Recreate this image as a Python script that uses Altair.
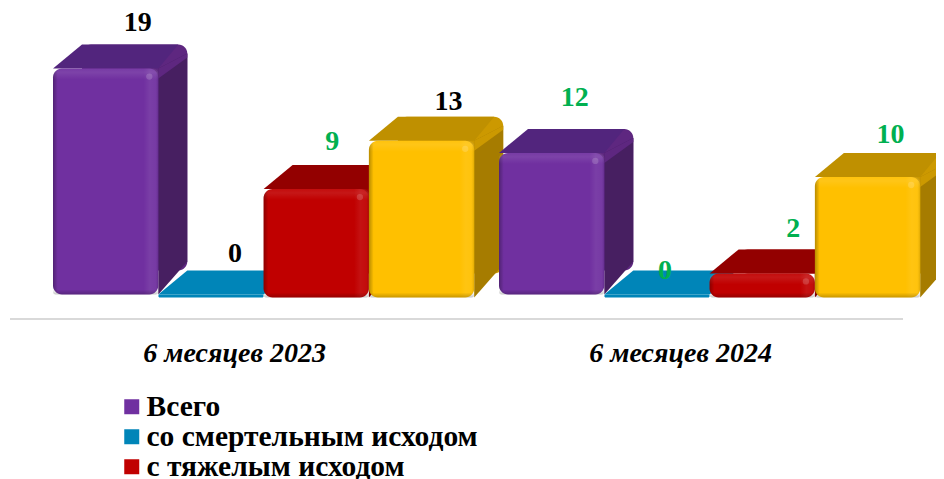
import altair as alt
import pandas as pd

# ---- values
periods = ["6 месяцев 2023", "6 месяцев 2024"]
series = ["Всего", "со смертельным исходом", "с тяжелым исходом", "с легким исходом"]
values_2023 = [19, 0, 9, 13]
values_2024 = [12, 0, 2, 10]
legend_items = series[:3]

# ---- style
W, H = 928, 471
PX = 1 / 105.3           # one pixel in bar widths
PY = 1 / 12.05           # one pixel in value units
X0 = -45 * PX
Y_MAX = 289.5 * PY
GROUP_STEP = 446 * PX
DX, DY = 29 * PX, 24 * PY
R = 9
front = ["#7030A0", "#0085B8", "#C00000", "#FFC000"]
top_c = ["#52257D", "#0085B8", "#930000", "#BF9000"]
side_c = ["#471F61", "#0085B8", "#8A0000", "#A67C00"]
band_c = ["#5E2780", "#0085B8", "#A00000", "#CC9900"]
floors = [3 * PY, 0, 0, 0]
BLACK, GREEN = "#000000", "#00B050"
label_colors = [[BLACK, BLACK, GREEN, BLACK], [GREEN, GREEN, GREEN, GREEN]]
# label centre relative to the bar's top-centre: (dx, dy) in pixels
label_nudges = [[(32, -46), (24, -41), (16, -47), (27, -39)],
                [(23, -55), (8, -24), (31, -44), (23, -42)]]
SERIF = "Liberation Serif"

x_scale = alt.Scale(domain=[X0, X0 + W * PX], nice=False, zero=False)
y_scale = alt.Scale(domain=[Y_MAX - H * PY, Y_MAX], nice=False, zero=False)
X = lambda f="x": alt.X(f"{f}:Q", scale=x_scale, axis=None)
Y = lambda f="y": alt.Y(f"{f}:Q", scale=y_scale, axis=None)
color_enc = alt.Color(
    "series:N",
    scale=alt.Scale(domain=series, range=front),
    legend=alt.Legend(
        values=legend_items, orient="none", legendX=109, legendY=384, title=None,
        symbolType="square", symbolSize=225, symbolStrokeWidth=0, symbolOpacity=1,
        labelFont=SERIF, labelFontWeight="bold", labelFontSize=29.5, labelColor="#000000",
        labelOffset=0, rowPadding=-1, labelLimit=500, padding=0,
    ),
)


def grad(stops, horizontal):
    return alt.Gradient(
        gradient="linear",
        stops=[alt.GradientStop(offset=o, color=c) for o, c in stops],
        x1=0, y1=0, x2=1 if horizontal else 0, y2=0 if horizontal else 1,
    )


def rect(x, x2, y, y2, **mark):
    df = pd.DataFrame({"x": [x], "x2": [x2], "y": [y], "y2": [y2]})
    return alt.Chart(df).mark_rect(**mark).encode(x=X(), x2="x2:Q", y=Y(), y2="y2:Q")


def area_h(y0, xa0, xb0, y1, xa1, xb1, color):
    df = pd.DataFrame({"y": [y0, y1], "x": [xa0, xa1], "x2": [xb0, xb1]})
    return alt.Chart(df).mark_area(color=color, orient="horizontal").encode(
        y=Y(), x=X(), x2="x2:Q")


def area_v(x0, ya0, yb0, x1, ya1, yb1, color):
    df = pd.DataFrame({"x": [x0, x1], "y": [ya0, ya1], "y2": [yb0, yb1]})
    return alt.Chart(df).mark_area(color=color, orient="vertical").encode(
        x=X(), y=Y(), y2="y2:Q")


layers = []
labels = []
for g, vals in enumerate([values_2023, values_2024]):
    for s, v in enumerate(vals):
        xl = g * GROUP_STEP + s
        xr = xl + 1
        floor = floors[s]
        top = max(v, 3 * PY)
        rr = R if v > 0 else 2
        rp, ry = rr * PX, rr * PY
        if v > 0:
            layers.append(rect(xl + DX, xr + DX, top + DY, floor + DY,
                               color=band_c[s], cornerRadius=rr))
        layers.append(area_h(top, xl, xr, top + DY, xl + DX, xr + DX - rp, top_c[s]))
        if v > 0:
            layers.append(area_v(xr, top, floor, xr + DX, top + DY - ry, floor + DY + ry, side_c[s]))
            layers.append(area_v(xr, top, top - 10 * PY, xr + DX, top + DY - ry,
                                 top + DY - ry - 4 * PY, band_c[s]))
        front_df = pd.DataFrame({"x": [xl], "x2": [xr], "y": [top], "y2": [floor],
                                 "series": [series[s]]})
        layers.append(
            alt.Chart(front_df).mark_rect(cornerRadius=rr).encode(
                x=X(), x2="x2:Q", y=Y(), y2="y2:Q", color=color_enc)
        )
        if v > 0:
            layers.append(rect(xl, xr, top, floor, cornerRadius=rr, color=grad([
                (0, "rgba(0,0,0,0.28)"), (0.045, "rgba(0,0,0,0)"),
                (0.86, "rgba(255,255,255,0)"), (0.92, "rgba(255,255,255,0.07)"),
                (0.97, "rgba(255,255,255,0.05)"), (1, "rgba(0,0,0,0.12)")], True)))
            layers.append(rect(xl, xr, top, top - 11 * PY, cornerRadiusTopLeft=rr,
                               cornerRadiusTopRight=rr, color=grad([
                (0, "rgba(255,255,255,0.05)"), (0.35, "rgba(255,255,255,0.09)"),
                (1, "rgba(255,255,255,0)")], False)))
            layers.append(rect(xl, xr, floor + 5 * PY, floor, cornerRadiusBottomLeft=rr,
                               cornerRadiusBottomRight=rr, color=grad([
                (0, "rgba(0,0,0,0)"), (1, "rgba(0,0,0,0.22)")], False)))
            spot = pd.DataFrame({"x": [xr - 9 * PX], "y": [top - 8 * PY]})
            layers.append(alt.Chart(spot).mark_point(
                shape="circle", filled=True, size=40, color="#FFFFFF", opacity=0.16
            ).encode(x=X(), y=Y()))
        dx, dy = label_nudges[g][s]
        lab = pd.DataFrame({"x": [xl + 0.5], "y": [top], "text": [str(v)]})
        labels.append(alt.Chart(lab).mark_text(
            font=SERIF, fontWeight="bold", fontSize=28, color=label_colors[g][s],
            dx=dx, dy=dy, align="center", baseline="middle",
        ).encode(x=X(), y=Y(), text="text:N"))

# baseline rule
base_df = pd.DataFrame({"x": [(10 - 53) * PX], "x2": [(903 - 53) * PX], "y": [-21.5 * PY]})
rule = alt.Chart(base_df).mark_rule(color="#D9D9D9", strokeWidth=2).encode(
    x=X(), x2="x2:Q", y=Y())

# period labels
cats = pd.DataFrame({"x": [i * GROUP_STEP + 2 for i in range(2)],
                     "y": [-56.5 * PY] * 2, "text": periods})
cat_text = alt.Chart(cats).mark_text(
    font=SERIF, fontWeight="bold", fontStyle="italic", fontSize=28, color="#000000",
    dx=-29, align="center", baseline="middle",
).encode(x=X(), y=Y(), text="text:N")

chart = alt.layer(rule, *layers, *labels, cat_text).properties(
    width=W, height=H, padding=0, autosize=alt.AutoSizeParams(type="none"),
    background="#FFFFFF",
).configure_view(stroke=None)

chart.save("out.html", embed_options={"renderer": "svg", "actions": False})
